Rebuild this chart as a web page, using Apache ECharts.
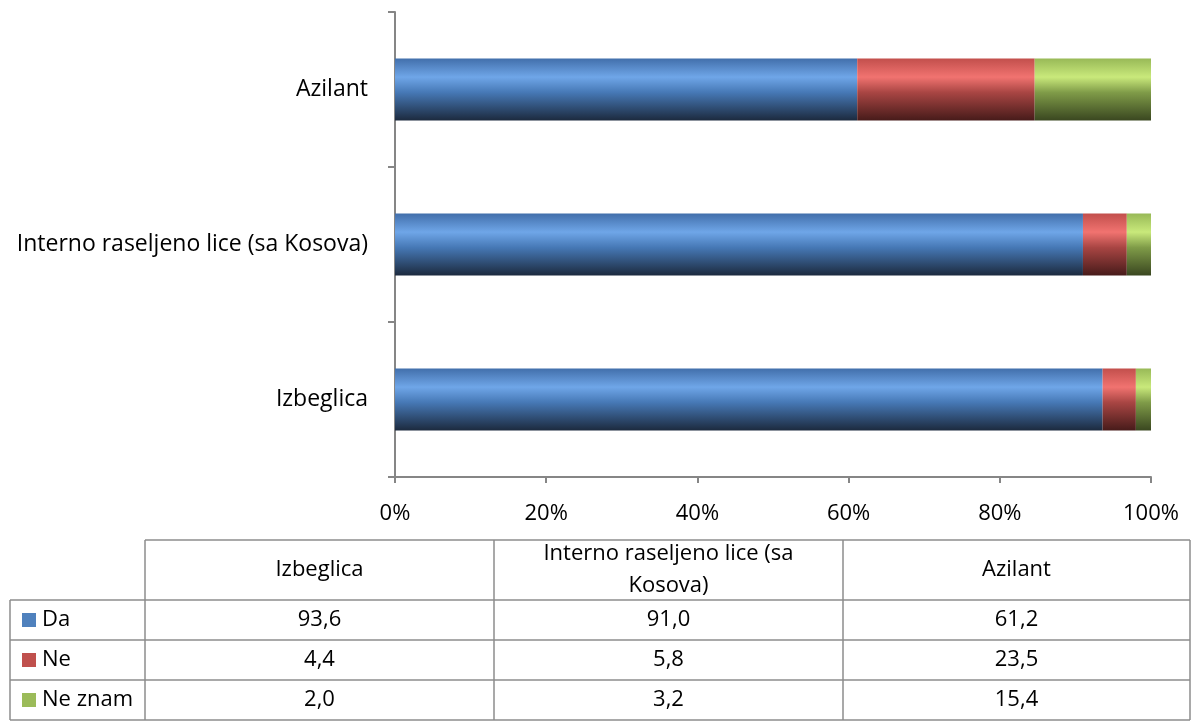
<!DOCTYPE html>
<html><head><meta charset="utf-8">
<script src="https://cdn.jsdelivr.net/npm/echarts@6/dist/echarts.min.js"></script>
<style>html,body{margin:0;padding:0;background:#fff}#c{width:1192px;height:724px}</style>
</head><body><div id="c"></div>
<script>
const categories = ['Izbeglica', 'Interno raseljeno lice (sa Kosova)', 'Azilant'];
const tableHeaders = ['Izbeglica', 'Interno raseljeno lice (sa\nKosova)', 'Azilant'];
const seriesNames = ['Da', 'Ne', 'Ne znam'];
const da = [93.6, 91.0, 61.2];
const ne = [4.4, 5.8, 23.5];
const neZnam = [2.0, 3.2, 15.4];
const xTicks = ['0%', '20%', '40%', '60%', '80%', '100%'];

const FONT = 'Open Sans';
const raw = [da, ne, neZnam];
const totals = categories.map((_, i) => raw.reduce((s, a) => s + a[i], 0));
const pct = raw.map(a => a.map((v, i) => v / totals[i] * 100));

function grad(c0, c1, c2, c3) {
  return new echarts.graphic.LinearGradient(0, 0, 0, 1, [
    {offset: 0, color: c0}, {offset: 0.3, color: c1}, {offset: 0.55, color: c2}, {offset: 1, color: c3}
  ]);
}
const fills = [
  grad('#426fab', '#6fa6e8', '#4678b5', '#1c2a3e'),
  grad('#c24f4c', '#f17370', '#a84543', '#471b1a'),
  grad('#98b957', '#c9e97b', '#7f9b48', '#3a4720')
];
const legendColors = ['#4f81bd', '#c0504d', '#9bbb59'];

const series = seriesNames.map((n, k) => ({
  name: n, type: 'bar', stack: 'a', barWidth: '40%',
  data: pct[k],
  itemStyle: {color: fills[k]},
  emphasis: {disabled: true}
}));

// table graphics
const TF = '22px ' + FONT;
const g = [];
const colX = [145, 494, 843, 1190];
const rowY = [540, 600, 640, 680, 720];
const lc = '#8c8c8c';
function line(x1, y1, x2, y2) { g.push({type: 'line', shape: {x1, y1, x2, y2}, style: {stroke: lc, lineWidth: 1.5}}); }
line(145, 540, 1190, 540);
for (let r = 1; r < rowY.length; r++) line(10, rowY[r], 1190, rowY[r]);
line(10, 600, 10, 720);
colX.forEach(x => line(x, 540, x, 720));
tableHeaders.forEach((h, i) => {
  g.push({type: 'text', x: (colX[i] + colX[i + 1]) / 2, y: 570,
    style: {text: h, font: TF, fill: '#000', align: 'center', verticalAlign: 'middle', lineHeight: 32}});
});
seriesNames.forEach((n, k) => {
  const yc = (rowY[k + 1] + rowY[k + 2]) / 2;
  g.push({type: 'rect', shape: {x: 22, y: yc - 7, width: 14, height: 14}, style: {fill: legendColors[k]}});
  g.push({type: 'text', x: 42, y: yc, style: {text: n, font: TF, fill: '#000', verticalAlign: 'middle'}});
  raw[k].forEach((v, i) => {
    g.push({type: 'text', x: (colX[i] + colX[i + 1]) / 2, y: yc,
      style: {text: v.toFixed(1).replace('.', ','), font: TF, fill: '#000', align: 'center', verticalAlign: 'middle'}});
  });
});

const chart = echarts.init(document.getElementById('c'), null, {renderer: 'canvas'});
chart.setOption({
  animation: false,
  backgroundColor: '#fff',
  grid: {left: 395, right: 41, top: 12, bottom: 247, containLabel: false},
  xAxis: {
    type: 'value', min: 0, max: 100, interval: 20,
    axisLine: {show: true, lineStyle: {color: '#868686', width: 2}},
    axisTick: {show: true, length: 6, lineStyle: {color: '#868686', width: 2}},
    splitLine: {show: false},
    axisLabel: {margin: 26, fontFamily: FONT, fontSize: 22, color: '#000',
      formatter: v => xTicks[Math.round(v / 20)]}
  },
  yAxis: {
    type: 'category', data: categories,
    axisLine: {show: true, lineStyle: {color: '#868686', width: 2}},
    axisTick: {show: true, length: 7, lineStyle: {color: '#868686', width: 2}},
    axisLabel: {margin: 27, fontFamily: FONT, fontSize: 23, color: '#000'}
  },
  series,
  graphic: g
});
</script></body></html>
